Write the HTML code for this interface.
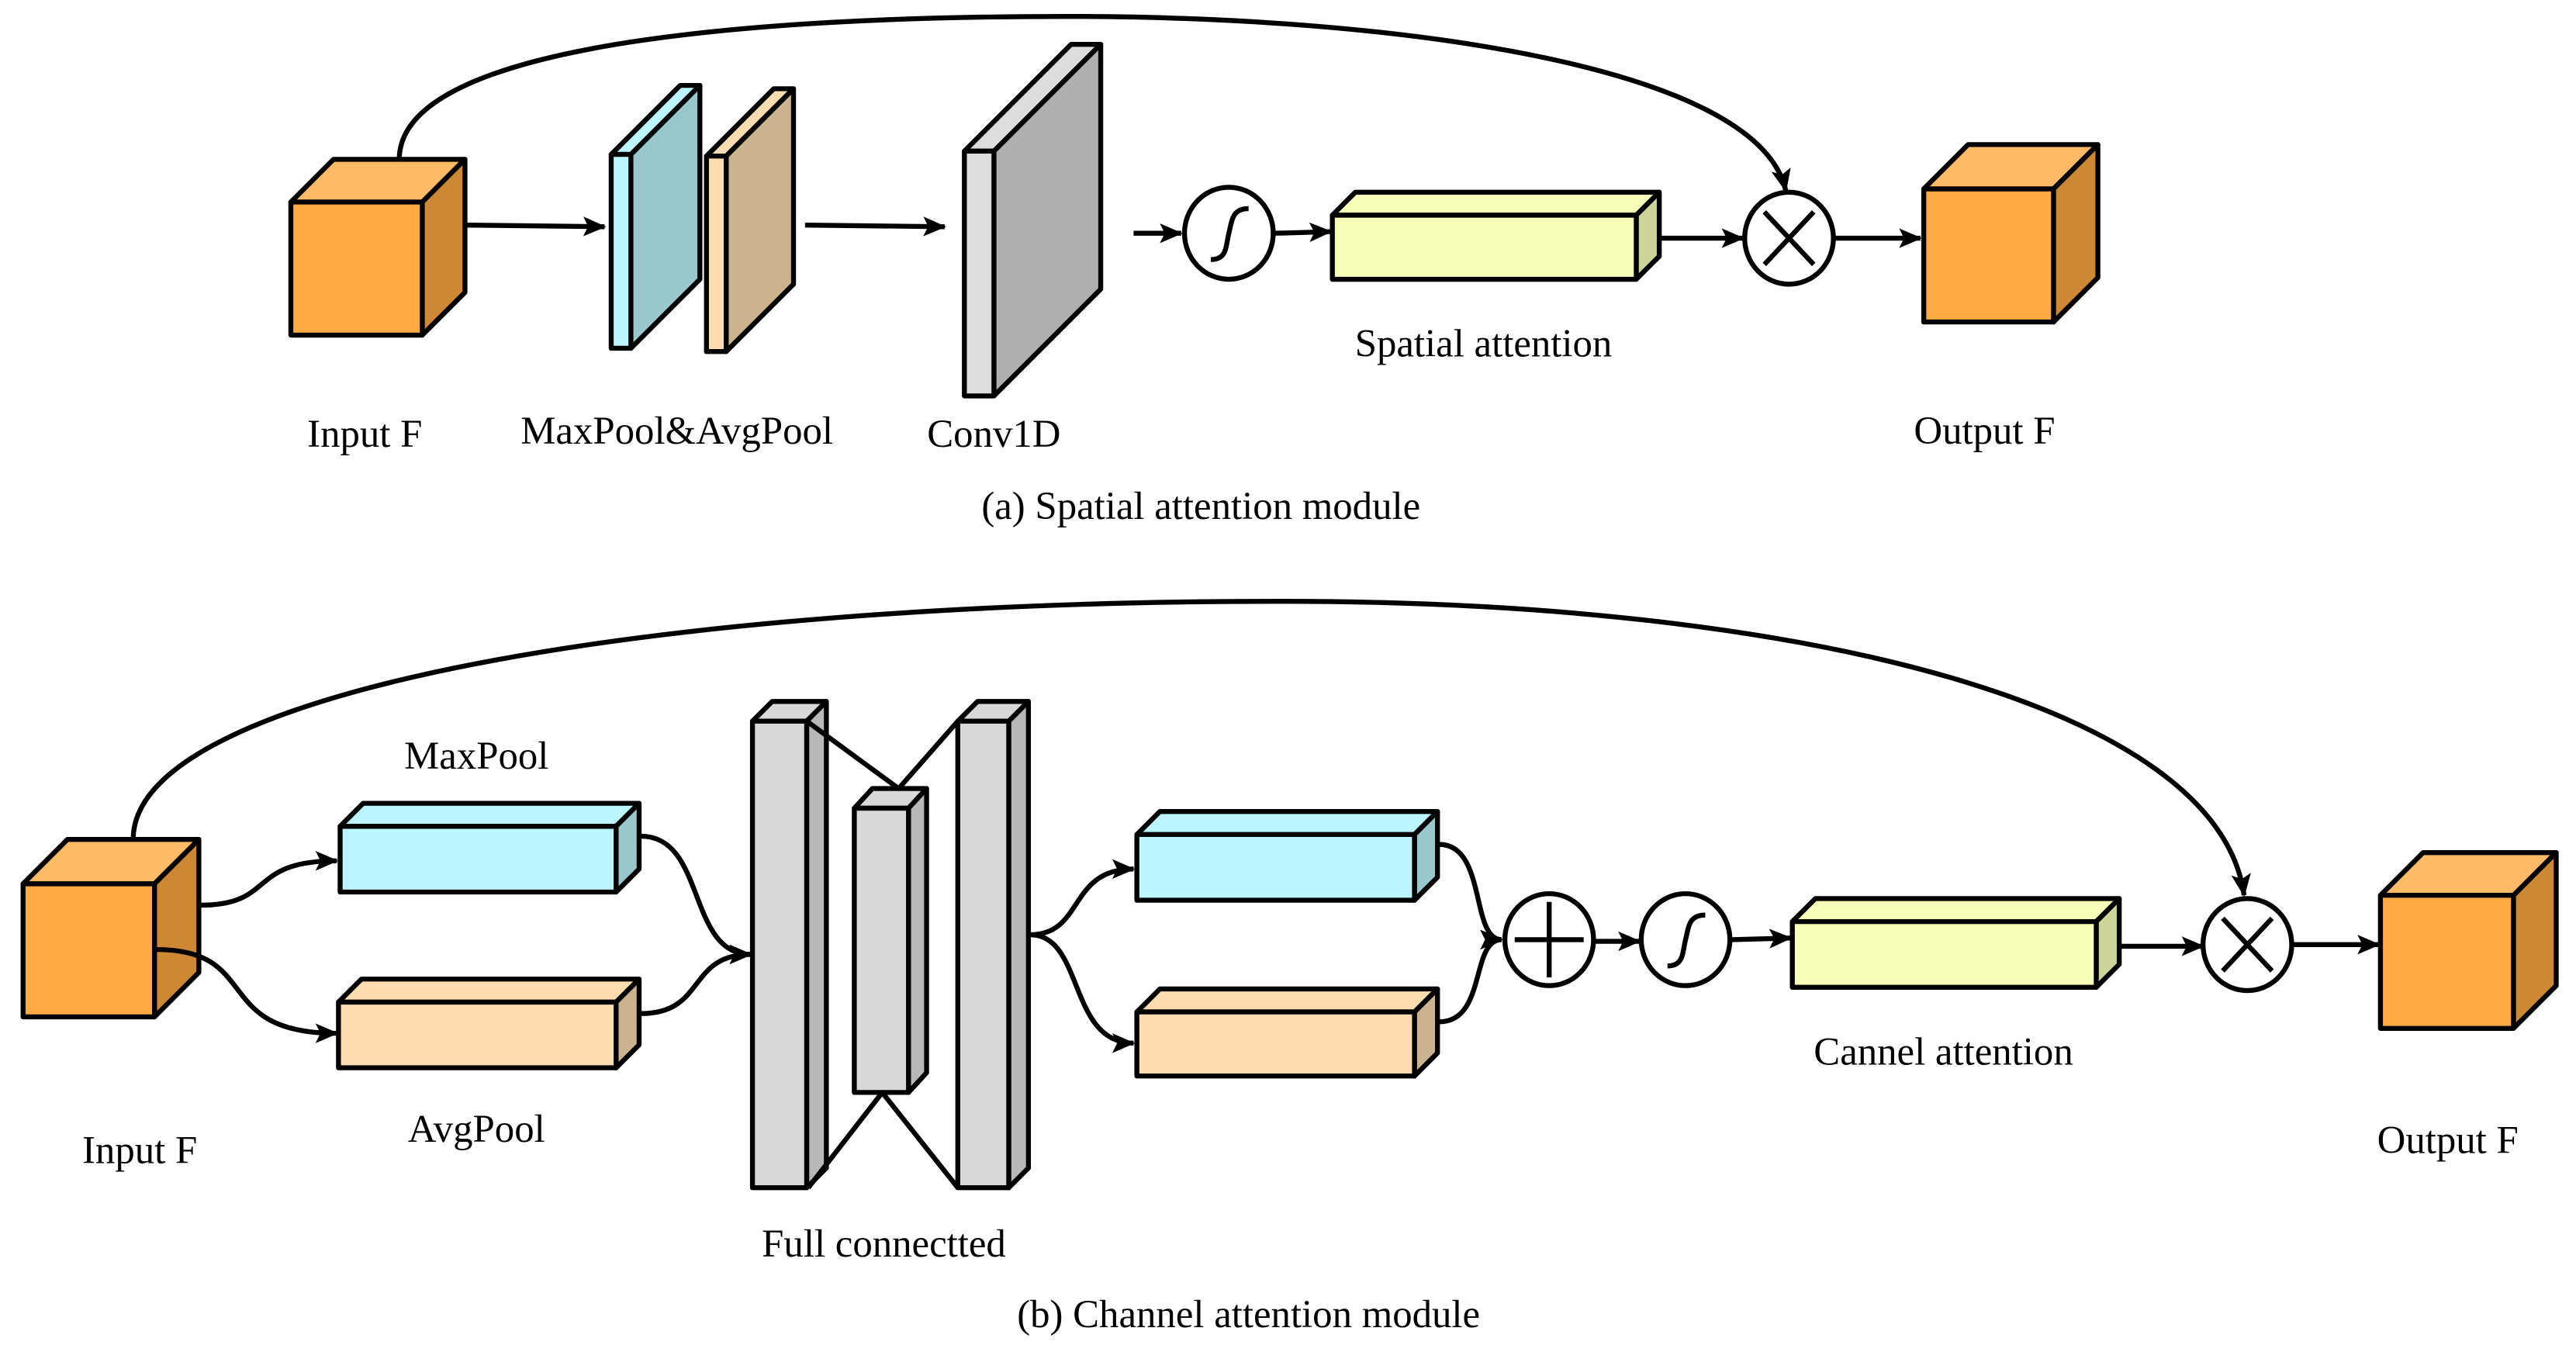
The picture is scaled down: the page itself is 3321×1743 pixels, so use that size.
<!DOCTYPE html>
<html><head><meta charset="utf-8"><style>html,body{margin:0;padding:0;background:#fff}svg{display:block}
svg text{font-family:"Liberation Serif","Times New Roman",serif;font-size:24px;fill:#000;text-anchor:middle}</style></head>
<body>
<svg width="3321" height="1743" viewBox="0 0 1568 823" xmlns="http://www.w3.org/2000/svg">
<defs>
<marker id="a" markerUnits="userSpaceOnUse" markerWidth="14" markerHeight="12" refX="13" refY="6" orient="auto"><path d="M0,0 L14,6 L0,12 L3,6 Z" fill="#000"/></marker>
</defs>
<g stroke="#000" stroke-width="3" stroke-linejoin="round" fill="none">
<!-- (a) -->
<path d="M243,97 C243,20 500,10 650,10 C850,10 1070,40 1087,116" marker-end="url(#a)"/>
<polygon points="177,123 257,123 283,97 203,97" fill="#FFBB66"/>
<polygon points="257,123 283,97 283,178 257,204" fill="#CC8833"/>
<rect x="177" y="123" width="80" height="81" fill="#FFAA44"/>
<line x1="284" y1="137" x2="368" y2="138" marker-end="url(#a)"/>
<polygon points="372,94 384,94 426,52 414,52" fill="#BBF5FF"/>
<polygon points="384,94 426,52 426,170 384,212" fill="#99C8CC"/>
<rect x="372" y="94" width="12" height="118" fill="#BBF5FF"/>
<polygon points="430,95 442,95 483,54 471,54" fill="#FFDDB0"/>
<polygon points="442,95 483,54 483,173 442,214" fill="#CCB38F"/>
<rect x="430" y="95" width="12" height="119" fill="#FFDDB0"/>
<line x1="490" y1="137" x2="575" y2="138" marker-end="url(#a)"/>
<polygon points="587,92 605,92 670,27 652,27" fill="#DDDDDD"/>
<polygon points="605,92 670,27 670,176 605,241" fill="#AFAFAF"/>
<rect x="587" y="92" width="18" height="149" fill="#DDDDDD"/>
<line x1="690" y1="142" x2="719" y2="142" marker-end="url(#a)"/>
<ellipse cx="748" cy="142" rx="27" ry="28" fill="#fff"/>
<path d="M737,158 C747,158 746,150 748,142 C750,134 750,127 760,127"/>
<line x1="776" y1="142" x2="810" y2="141" marker-end="url(#a)"/>
<polygon points="811,131 996,131 1010,117 825,117" fill="#F8FFB8"/>
<polygon points="996,131 1010,117 1010,156 996,170" fill="#CCD49A"/>
<rect x="811" y="131" width="185" height="39" fill="#F8FFB8"/>
<line x1="1010" y1="145" x2="1061" y2="145" marker-end="url(#a)"/>
<ellipse cx="1089" cy="145" rx="27" ry="28" fill="#fff"/>
<path d="M1074,129 L1104,161 M1104,129 L1074,161"/>
<line x1="1117" y1="145" x2="1169" y2="145" marker-end="url(#a)"/>
<polygon points="1171,115 1250,115 1277,88 1198,88" fill="#FFBB66"/>
<polygon points="1250,115 1277,88 1277,169 1250,196" fill="#CC8833"/>
<rect x="1171" y="115" width="79" height="81" fill="#FFAA44"/>

<!-- (b) -->
<path d="M81,511 C81,420 400,366 780,366 C1100,366 1350,430 1366,545" marker-end="url(#a)"/>
<polygon points="14,538 94,538 121,511 41,511" fill="#FFBB66"/>
<polygon points="94,538 121,511 121,592 94,619" fill="#CC8833"/>
<rect x="14" y="538" width="80" height="81" fill="#FFAA44"/>
<path d="M122,551 C168,551 150,524 205,524" marker-end="url(#a)"/>
<path d="M95,578 C160,578 128,629 205,629" marker-end="url(#a)"/>
<polygon points="207,503 375,503 389,489 221,489" fill="#BBF5FF"/>
<polygon points="375,503 389,489 389,529 375,543" fill="#99C8CC"/>
<rect x="207" y="503" width="168" height="40" fill="#BBF5FF"/>
<polygon points="206,610 375,610 389,596 220,596" fill="#FFDDB0"/>
<polygon points="375,610 389,596 389,636 375,650" fill="#CCB38F"/>
<rect x="206" y="610" width="169" height="40" fill="#FFDDB0"/>
<path d="M390,509 C430,509 418,581 457,581" marker-end="url(#a)"/>
<path d="M390,617 C430,617 418,581 457,581" marker-end="url(#a)"/>
<polygon points="458,439 491,439 503,427 470,427" fill="#D8D8D8"/>
<polygon points="491,439 503,427 503,711 491,723" fill="#B8B8B8"/>
<rect x="458" y="439" width="33" height="284" fill="#D8D8D8"/>
<polygon points="520,492 553,492 564,480 531,480" fill="#D8D8D8"/>
<polygon points="553,492 564,480 564,653 553,665" fill="#B8B8B8"/>
<rect x="520" y="492" width="33" height="173" fill="#D8D8D8"/>
<polygon points="583,439 614,439 626,427 595,427" fill="#D8D8D8"/>
<polygon points="614,439 626,427 626,711 614,723" fill="#B8B8B8"/>
<rect x="583" y="439" width="31" height="284" fill="#D8D8D8"/>
<path d="M491,439 L547,480 L583,439 M492,723 L537,665 L583,723"/>
<path d="M627,569 C660,569 650,529 690,529" marker-end="url(#a)"/>
<path d="M627,569 C660,569 650,635 690,635" marker-end="url(#a)"/>
<polygon points="692,508 861,508 875,494 706,494" fill="#BBF5FF"/>
<polygon points="861,508 875,494 875,534 861,548" fill="#99C8CC"/>
<rect x="692" y="508" width="169" height="40" fill="#BBF5FF"/>
<polygon points="692,616 861,616 875,602 706,602" fill="#FFDDB0"/>
<polygon points="861,616 875,602 875,641 861,655" fill="#CCB38F"/>
<rect x="692" y="616" width="169" height="39" fill="#FFDDB0"/>
<path d="M876,514 C905,514 895,572 914,572" marker-end="url(#a)"/>
<path d="M876,622 C905,622 895,572 914,572" marker-end="url(#a)"/>
<ellipse cx="943" cy="572" rx="27" ry="28" fill="#fff"/>
<path d="M922,572 L964,572 M943,549 L943,595"/>
<line x1="971" y1="573" x2="998" y2="573" marker-end="url(#a)"/>
<ellipse cx="1026" cy="572" rx="27" ry="28" fill="#fff"/>
<path d="M1015,588 C1025,588 1024,580 1026,572 C1028,564 1028,557 1038,557"/>
<line x1="1054" y1="572" x2="1090" y2="571" marker-end="url(#a)"/>
<polygon points="1091,561 1276,561 1290,547 1105,547" fill="#F8FFB8"/>
<polygon points="1276,561 1290,547 1290,587 1276,601" fill="#CCD49A"/>
<rect x="1091" y="561" width="185" height="40" fill="#F8FFB8"/>
<line x1="1290" y1="576" x2="1341" y2="576" marker-end="url(#a)"/>
<ellipse cx="1368" cy="575" rx="27" ry="28" fill="#fff"/>
<path d="M1353,559 L1383,591 M1383,559 L1353,591"/>
<line x1="1396" y1="575" x2="1448" y2="575" marker-end="url(#a)"/>
<polygon points="1449,545 1530,545 1556,519 1475,519" fill="#FFBB66"/>
<polygon points="1530,545 1556,519 1556,600 1530,626" fill="#CC8833"/>
<rect x="1449" y="545" width="81" height="81" fill="#FFAA44"/>
</g>
<g>
<text x="222" y="272">Input F</text>
<text x="412" y="270">MaxPool&amp;AvgPool</text>
<text x="605" y="272">Conv1D</text>
<text x="903" y="217">Spatial attention</text>
<text x="1208" y="270">Output F</text>
<text x="731" y="316">(a) Spatial attention module</text>
<text x="290" y="468">MaxPool</text>
<text x="290" y="695">AvgPool</text>
<text x="85" y="708">Input F</text>
<text x="538" y="765">Full connectted</text>
<text x="1183" y="648">Cannel attention</text>
<text x="1490" y="702">Output F</text>
<text x="760" y="808">(b) Channel attention module</text>
</g>
</svg>
</body></html>
